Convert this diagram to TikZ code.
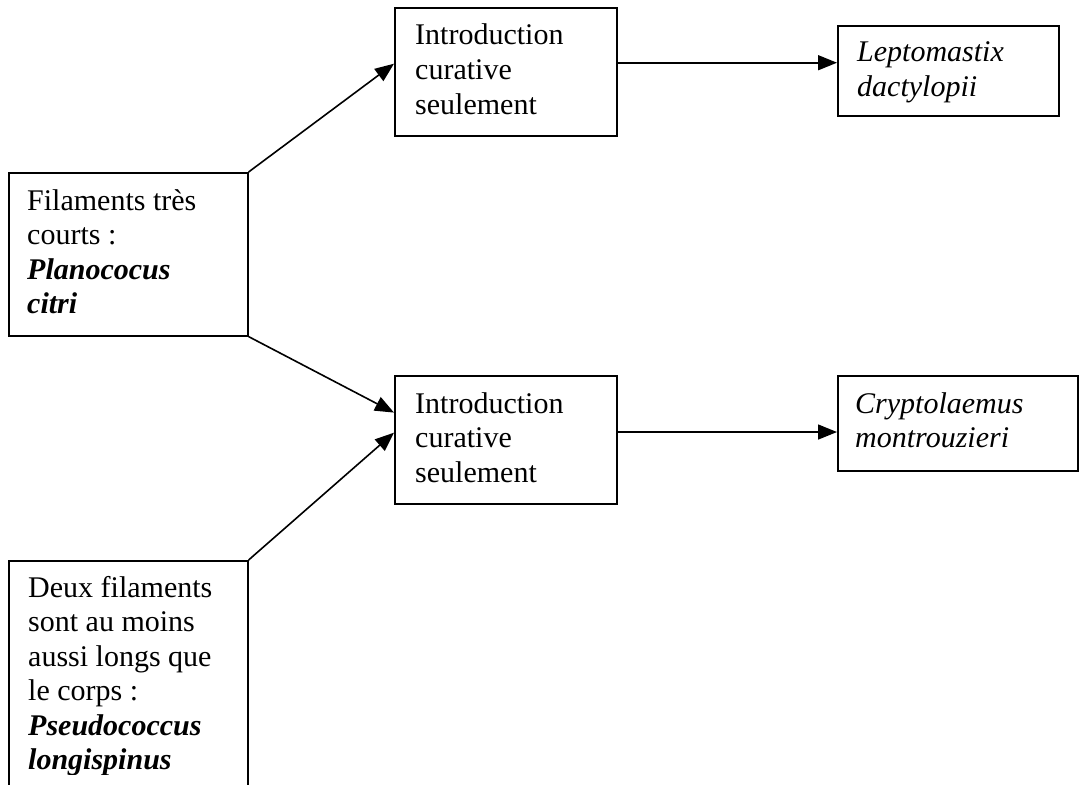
\documentclass[tikz,border=0pt]{standalone}
\usepackage{fontspec}
\setmainfont{Liberation Serif}
\usetikzlibrary{arrows.meta,calc}
\begin{document}
\begin{tikzpicture}[x=1bp,y=-1bp,
  box/.style={draw,line width=1.6bp,rectangle,inner sep=0pt,anchor=north west},
  txt/.style={anchor=base west,align=left,inner sep=0pt,font=\fontsize{30bp}{34.5bp}\selectfont},
  arr/.style={line width=1.6bp,-{Triangle[length=19bp,width=15bp]}}]
\clip (0,0) rectangle (1080,785);
\fill[white] (0,0) rectangle (1080,785);
% boxes
\node[box,minimum width=239bp,minimum height=163bp] (A) at (8,172) {};
\node[box,minimum width=239bp,minimum height=240bp] (B) at (8,560) {};
\node[box,minimum width=222bp,minimum height=128bp] (C) at (394,7) {};
\node[box,minimum width=222bp,minimum height=128bp] (E) at (394,375) {};
\node[box,minimum width=221bp,minimum height=90bp] (D) at (837,25) {};
\node[box,minimum width=240bp,minimum height=95bp] (F) at (837,375) {};
% texts (anchor = baseline of the last line)
\node[txt] (tA) at ($(A.north west)+(19,141.5)$) {Filaments très\\courts :\\\textbf{\textit{Planococus}}\\\textbf{\textit{citri}}};
\begin{scope}
\clip (0,0) rectangle (1080,774);
\node[txt] (tB) at ($(B.north west)+(20,209.5)$) {Deux filaments\\sont au moins\\aussi longs que\\le corps :\\\textbf{\textit{Pseudococcus}}\\\textbf{\textit{longispinus}}};
\end{scope}
\node[txt] (tC) at ($(C.north west)+(21,107)$) {Introduction\\curative\\seulement};
\node[txt] (tE) at ($(E.north west)+(21,107)$) {Introduction\\curative\\seulement};
\node[txt] (tD) at ($(D.north west)+(20,71.5)$) {\textit{Leptomastix}\\\textit{dactylopii}};
\node[txt] (tF) at ($(F.north west)+(18,72.5)$) {\textit{Cryptolaemus}\\\textit{montrouzieri}};
% connectors
\coordinate (c1) at ($(C.north west)!0.4375!(C.south west)$);
\coordinate (cd) at ($(C.north east)!0.43!(C.south east)$);
\coordinate (e1) at ($(E.north west)!0.29!(E.south west)$);
\coordinate (e2) at ($(E.north west)!0.445!(E.south west)$);
\coordinate (ef) at ($(E.north east)!0.44!(E.south east)$);
\draw[arr] (A.north east) -- (c1);
\draw[arr] (cd) -- (cd -| D.west);
\draw[arr] (A.south east) -- (e1);
\draw[arr] (B.north east) -- (e2);
\draw[arr] (ef) -- (ef -| F.west);
\end{tikzpicture}
\end{document}
